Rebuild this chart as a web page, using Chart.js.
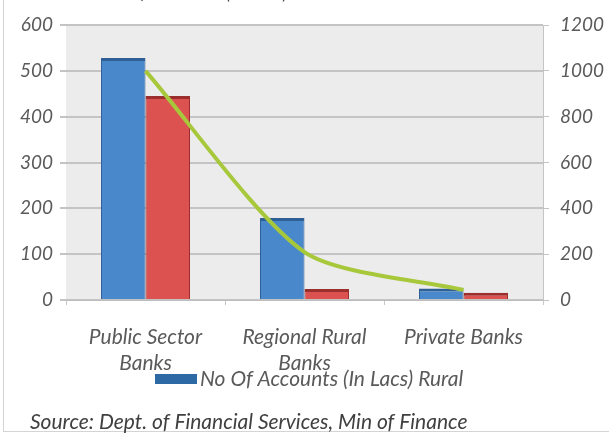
<!DOCTYPE html>
<html><head><meta charset="utf-8">
<script src="https://cdn.jsdelivr.net/npm/chart.js@4.4.1/dist/chart.umd.min.js"></script>
<style>html,body{margin:0;padding:0;background:#fff;}canvas{display:block;}</style>
</head><body>
<canvas id="c" width="609" height="434"></canvas>
<script>
const categories = [["Public Sector","Banks"],["Regional Rural","Banks"],"Private Banks"];
const ruralAccounts = [528, 179, 25];
const urbanAccounts = [445, 24, 16];
const lineValues = [1000, 209, 44];
const leftTicks = [0,100,200,300,400,500,600];
const rightTicks = [0,200,400,600,800,1000,1200];
const seriesNames = ["No Of Accounts (In Lacs) Rural", "No Of Accounts (In Lacs) Urban", "Amount"];
const titleText = "No Of Accounts (In Lacs) Rural & Urban and Amount";
const sourceText = "Source: Dept. of Financial Services, Min of Finance";

const FONT = "Lato, 'Liberation Sans', sans-serif";
const txt = "#5a5a5a";

const deco = {
  id: 'deco',
  beforeDraw(chart) {
    const {ctx, chartArea: a} = chart;
    ctx.save();
    ctx.fillStyle = '#ffffff';
    ctx.fillRect(0,0,chart.width,chart.height);
    ctx.fillStyle = '#ececec';
    ctx.fillRect(a.left, a.top, a.right-a.left, a.bottom-a.top);
    ctx.strokeStyle = '#d4d4d4';
    ctx.lineWidth = 1;
    ctx.strokeRect(3.5, -2, chart.width+5, chart.height-0.5);
    ctx.restore();
  },
  afterDraw(chart) {
    const {ctx} = chart;
    ctx.save();
    ctx.fillStyle = '#505050';
    ctx.font = "italic 19px " + FONT;
    ctx.textBaseline = 'alphabetic';
    ctx.fillText(titleText, 100, -1, 400);
    // legend
    ctx.fillStyle = '#2d6aa5';
    ctx.fillRect(155, 374, 42, 10);
    ctx.fillStyle = txt;
    ctx.font = "italic 21px " + FONT;
    ctx.fillText(seriesNames[0], 200, 386, 277);
    ctx.fillStyle = '#404040';
    ctx.font = "italic 21px " + FONT;
    ctx.fillText(sourceText, 30, 429, 452);
    ctx.restore();
  }
};

const tickFont = {family:FONT, size:19, style:'italic'};

new Chart(document.getElementById('c'), {
  data: {
    labels: categories,
    datasets: [
      {type:'line', label: seriesNames[2], data: lineValues, yAxisID:'y1', borderColor:'#a8c83c', backgroundColor:'#a8c83c', borderWidth:4, pointRadius:0, tension:0.25, order:0},
      {type:'bar', label: seriesNames[0], data: ruralAccounts, yAxisID:'y', backgroundColor:'#4a88cc', borderColor:'#2e5f95', borderWidth:{top:3,left:1,right:1,bottom:0}, categoryPercentage:0.56, barPercentage:1.0, order:1},
      {type:'bar', label: seriesNames[1], data: urbanAccounts, yAxisID:'y', backgroundColor:'#dc5250', borderColor:'#9b2f2e', borderWidth:{top:3,left:1,right:1,bottom:0}, categoryPercentage:0.56, barPercentage:1.0, order:1}
    ]
  },
  options: {
    responsive:false, animation:false, devicePixelRatio:1,
    layout:{padding:{top:25,left:0,right:0,bottom:0}},
    plugins:{legend:{display:false}, tooltip:{enabled:false}},
    scales:{
      x:{
        grid:{display:true, drawOnChartArea:false, color:'#c8c8c8', tickLength:5, offset:true},
        border:{color:'#bdbdbd'},
        ticks:{color:txt, font:{family:FONT, size:21, style:'italic', lineHeight:1.25}, padding:19, maxRotation:0, autoSkip:false},
        afterFit(s){ s.height = 134; }
      },
      y:{
        position:'left', min:0, max:600,
        afterBuildTicks(s){ s.ticks = leftTicks.map(v=>({value:v})); },
        grid:{color:'#c4c4c4', lineWidth:2, tickLength:6},
        border:{display:false},
        ticks:{color:txt, font:tickFont, padding:7, callback:v=>String(v)},
        afterFit(s){ s.width = 66; }
      },
      y1:{
        position:'right', min:0, max:1200,
        afterBuildTicks(s){ s.ticks = rightTicks.map(v=>({value:v})); },
        grid:{drawOnChartArea:false, color:'#c4c4c4', tickLength:6},
        border:{color:'#c4c4c4'},
        ticks:{color:txt, font:tickFont, padding:11, callback:v=>String(v)},
        afterFit(s){ s.width = 66; }
      }
    }
  },
  plugins:[deco]
});
</script>
</body></html>
